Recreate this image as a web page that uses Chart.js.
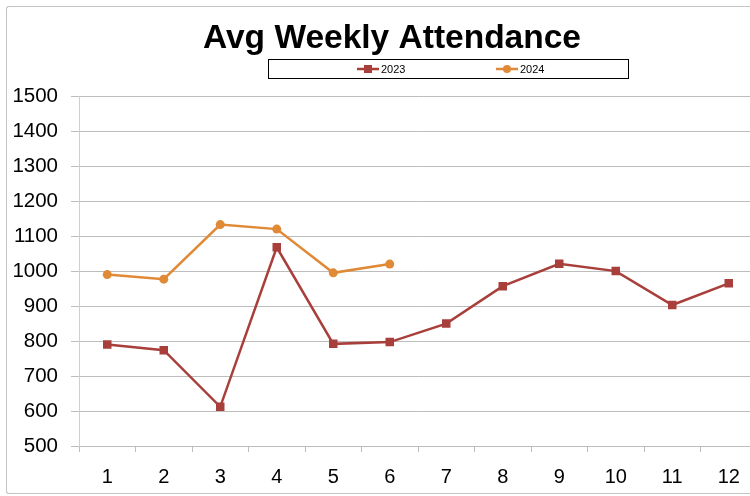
<!DOCTYPE html>
<html>
<head>
<meta charset="utf-8">
<script src="https://cdn.jsdelivr.net/npm/chart.js@4.4.1/dist/chart.umd.min.js"></script>
<style>
  body { margin: 0; overflow: hidden; background: #fff; }
  #wrap { position: relative; width: 784px; height: 496px; }
  #frame {
    position: absolute; left: 6px; top: 6px; width: 820px; height: 486px;
    border: 1px solid #c4c4c4; border-right: none; border-radius: 3px 0 0 3px; pointer-events: none;
  }
</style>
</head>
<body>
<div id="wrap">
  <canvas id="myChart" width="784" height="496"></canvas>
  <div id="frame"></div>
</div>
<script>
const weeks = ['1', '2', '3', '4', '5', '6', '7', '8', '9', '10', '11', '12'];
const attendance2023 = [790, 774, 612, 1068, 792, 797, 850, 957, 1021, 1000, 903, 965];
const attendance2024 = [990, 977, 1133, 1120, 995, 1020];
const yTicks = [500, 600, 700, 800, 900, 1000, 1100, 1200, 1300, 1400, 1500];

const color2023 = '#a83f3b';
const color2024 = '#e08936';

// legend drawn by hand: boxed, with line + marker like the original
const boxedLegend = {
    id: 'boxedLegend',
    afterLayout(chart) {
        // center the title on the whole canvas, not on the padded area
        chart.titleBlock.left = 0;
        chart.titleBlock.right = chart.width;
    },
    afterDraw(chart) {
        const ctx = chart.ctx;
        ctx.save();
        ctx.strokeStyle = '#000';
        ctx.lineWidth = 1;
        ctx.strokeRect(268.5, 59.5, 360, 19);
        const starts = [357, 496];
        ctx.font = '11px "Liberation Sans", Arial, sans-serif';
        ctx.textBaseline = 'middle';
        chart.data.datasets.forEach((ds, i) => {
            const x = starts[i];
            const y = 69;
            ctx.strokeStyle = ds.borderColor;
            ctx.lineWidth = 2.5;
            ctx.beginPath();
            ctx.moveTo(x, y);
            ctx.lineTo(x + 22, y);
            ctx.stroke();
            ctx.fillStyle = ds.borderColor;
            if (ds.pointStyle === 'rect') {
                ctx.fillRect(x + 7, y - 4, 8, 8);
            } else {
                ctx.beginPath();
                ctx.arc(x + 11, y, 4, 0, Math.PI * 2);
                ctx.fill();
            }
            ctx.fillStyle = '#000';
            ctx.fillText(ds.label, x + 24, y + 0.5);
        });
        ctx.restore();
    }
};

const data = {
    labels: weeks,
    datasets: [{
        label: '2023',
        data: attendance2023,
        borderColor: color2023,
        backgroundColor: color2023,
        borderWidth: 2.5,
        pointStyle: 'rect',
        pointRadius: 6,
        pointBorderWidth: 0,
        tension: 0
    }, {
        label: '2024',
        data: attendance2024,
        borderColor: color2024,
        backgroundColor: color2024,
        borderWidth: 2.5,
        pointStyle: 'circle',
        pointRadius: 4.5,
        pointBorderWidth: 0,
        tension: 0
    }]
};

const config = {
    type: 'line',
    data: data,
    options: {
        responsive: false,
        animation: false,
        layout: { padding: { left: 0, right: 27, top: 0, bottom: 0 } },
        plugins: {
            legend: { display: false },
            tooltip: { enabled: false },
            title: {
                display: true,
                text: 'Avg Weekly Attendance',
                color: '#000',
                font: { family: '"Liberation Sans", Arial, sans-serif', size: 33.5, weight: 'bold' },
                padding: { top: 19, bottom: 37 }
            }
        },
        scales: {
            x: {
                offset: true,
                grid: {
                    offset: true,
                    drawOnChartArea: false,
                    color: '#bdbdbd',
                    tickLength: 6
                },
                border: { display: false },
                ticks: {
                    color: '#000',
                    padding: 13,
                    font: { family: '"Liberation Sans", Arial, sans-serif', size: 20 }
                },
                afterFit: (scale) => { scale.height = 50; }
            },
            y: {
                min: 500,
                max: 1500,
                afterBuildTicks: (scale) => { scale.ticks = yTicks.map(v => ({ value: v })); },
                grid: {
                    color: '#bdbdbd',
                    tickLength: 8
                },
                border: { color: '#cfcfcf' },
                ticks: {
                    color: '#000',
                    padding: 13,
                    font: { family: '"Liberation Sans", Arial, sans-serif', size: 20.5 },
                    callback: (value) => String(value)
                },
                afterFit: (scale) => { scale.width = 79; }
            }
        }
    },
    plugins: [boxedLegend]
};

const myChart = new Chart(document.getElementById('myChart'), config);
</script>
</body>
</html>
